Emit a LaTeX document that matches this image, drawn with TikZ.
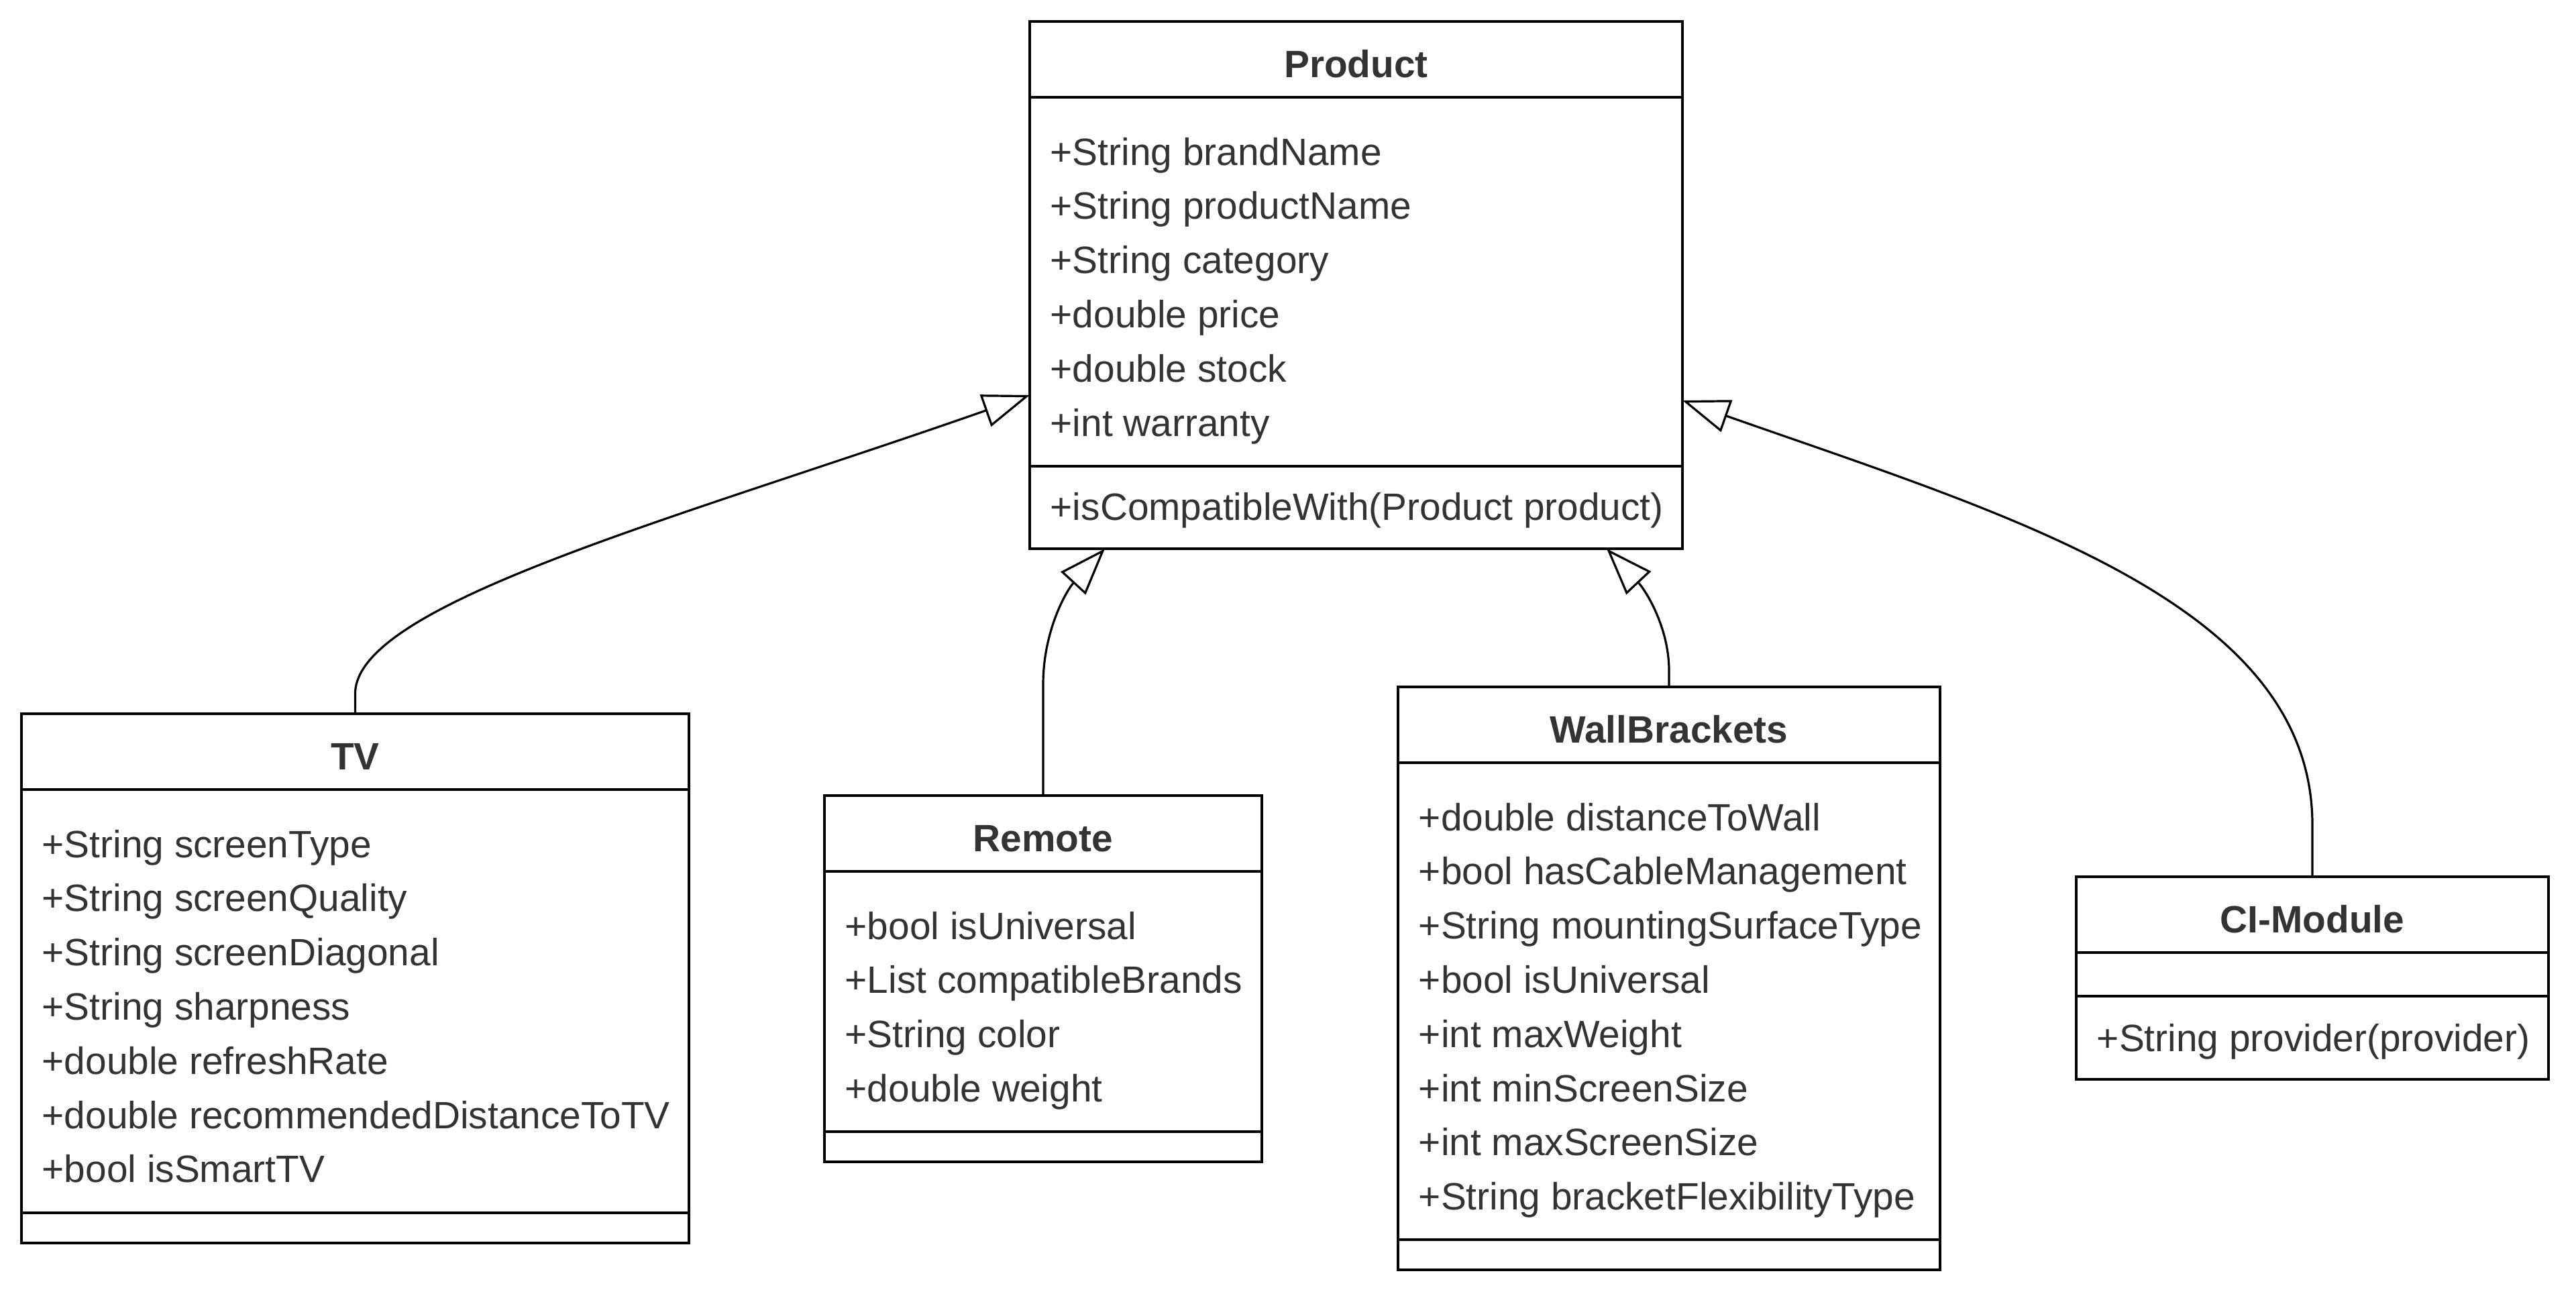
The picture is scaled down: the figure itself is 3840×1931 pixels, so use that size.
\documentclass[tikz,border=0pt]{standalone}
\usepackage{fontspec}
\setmainfont{Liberation Sans}
\usetikzlibrary{arrows.meta,fit}
\definecolor{txt}{HTML}{333333}
\begin{document}
\begin{tikzpicture}[x=0.25pt,y=-0.25pt,
  box/.style={draw=black, line width=0.95pt, inner sep=0pt},
  sepline/.style={draw=black, line width=0.95pt},
  title/.style={font=\bfseries\fontsize{14.2}{16}\selectfont, text=txt, anchor=base, inner sep=0pt},
  attr/.style={font=\fontsize{14.2}{16}\selectfont, text=txt, anchor=base west, inner sep=0pt},
  inh/.style={draw=black, line width=0.8pt, -{Triangle[open, length=17.5pt, width=12.5pt]}}]
\fill[white] (0,0) rectangle (3840,1931);
\useasboundingbox (0,0) rectangle (3840,1931);

% ---------- Product ----------
\node[box, fit={(1535,32) (2508,818)}] (prod) {};
\draw[sepline] (prod.west |- 0,145) -- (prod.east |- 0,145);
\draw[sepline] (prod.west |- 0,695) -- (prod.east |- 0,695);
\node[title] (prod-t) at (2021.5,115) {Product};
\foreach \t [count=\i] in {{+String brandName},{+String productName},{+String category},{+double price},{+double stock},{+int warranty}}
  \node[attr] (prod-a\i) at (1565,{246+80.8*(\i-1)}) {\t};
\node[attr] (prod-m1) at (1565,775) {+isCompatibleWith(Product product)};

% ---------- TV ----------
\node[box, fit={(32,1064) (1027,1853)}] (tv) {};
\draw[sepline] (tv.west |- 0,1177) -- (tv.east |- 0,1177);
\draw[sepline] (tv.west |- 0,1808) -- (tv.east |- 0,1808);
\node[title] (tv-t) at (529.5,1147) {TV};
\foreach \t [count=\i] in {{+String screenType},{+String screenQuality},{+String screenDiagonal},{+String sharpness},{+double refreshRate},{+double recommendedDistanceToTV},{+bool isSmartTV}}
  \node[attr] (tv-a\i) at (62,{1278+80.8*(\i-1)}) {\t};

% ---------- Remote ----------
\node[box, fit={(1229,1186) (1881,1732)}] (rem) {};
\draw[sepline] (rem.west |- 0,1299) -- (rem.east |- 0,1299);
\draw[sepline] (rem.west |- 0,1687) -- (rem.east |- 0,1687);
\node[title] (rem-t) at (1555,1269) {Remote};
\foreach \t [count=\i] in {{+bool isUniversal},{+List compatibleBrands},{+String color},{+double weight}}
  \node[attr] (rem-a\i) at (1259,{1400+80.8*(\i-1)}) {\t};

% ---------- WallBrackets ----------
\node[box, fit={(2084,1024) (2892,1893)}] (wb) {};
\draw[sepline] (wb.west |- 0,1137) -- (wb.east |- 0,1137);
\draw[sepline] (wb.west |- 0,1848) -- (wb.east |- 0,1848);
\node[title] (wb-t) at (2488,1107) {WallBrackets};
\foreach \t [count=\i] in {{+double distanceToWall},{+bool hasCableManagement},{+String mountingSurfaceType},{+bool isUniversal},{+int maxWeight},{+int minScreenSize},{+int maxScreenSize},{+String bracketFlexibilityType}}
  \node[attr] (wb-a\i) at (2114,{1238+80.8*(\i-1)}) {\t};

% ---------- CI-Module ----------
\node[box, fit={(3095,1307) (3799,1609)}] (ci) {};
\draw[sepline] (ci.west |- 0,1420) -- (ci.east |- 0,1420);
\draw[sepline] (ci.west |- 0,1485) -- (ci.east |- 0,1485);
\node[title] (ci-t) at (3447,1390) {CI-Module};
\node[attr] (ci-m1) at (3125,1567) {+String provider(provider)};

% ---------- inheritance connectors ----------
\coordinate (pTV) at (1535,589);
\coordinate (pRem) at (1647,818);
\coordinate (pWB) at (2395,818);
\coordinate (pCI) at (2508,597);

\draw[inh] (tv.north) -- (529.5,1034) .. controls (529.5,900) and (1010,773) .. (pTV);
\draw[inh] (rem.north) -- (1555,1020) .. controls (1555,940) and (1590,880) .. (pRem);
\draw[inh] (wb.north) -- (2488,1000) .. controls (2488,935) and (2453,880) .. (pWB);
\draw[inh] (ci.north) -- (3447,1230) .. controls (3447,900) and (3000,770) .. (pCI);
\end{tikzpicture}
\end{document}
